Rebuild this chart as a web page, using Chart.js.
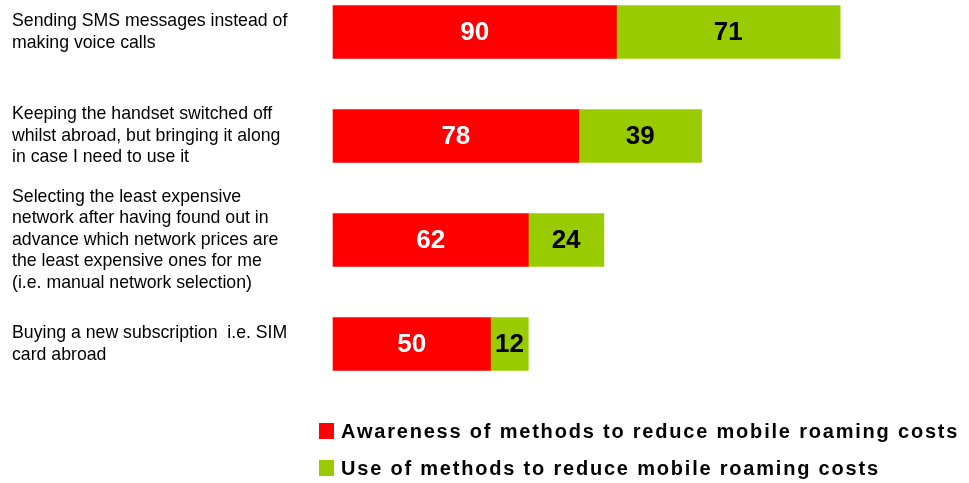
<!DOCTYPE html>
<html>
<head>
<meta charset="utf-8">
<script src="https://cdn.jsdelivr.net/npm/chart.js@4/dist/chart.umd.min.js"></script>
<style>
  html, body { margin: 0; padding: 0; background: #fff; }
  #wrap { width: 969px; height: 483px; }
</style>
</head>
<body>
<div id="wrap"><canvas id="graficoRoaming"></canvas></div>
<script>
const metodos = [
    ['Sending SMS messages instead of', 'making voice calls'],
    ['Keeping the handset switched off', 'whilst abroad, but bringing it along', 'in case I need to use it'],
    ['Selecting the least expensive', 'network after having found out in', 'advance which network prices are', 'the least expensive ones for me', '(i.e. manual network selection)'],
    ['Buying a new subscription  i.e. SIM', 'card abroad']
];
const conhecimento = [90, 78, 62, 50];
const uso = [71, 39, 24, 12];
const legendas = [
    'Awareness of methods to reduce mobile roaming costs',
    'Use of methods to reduce mobile roaming costs'
];

const VERMELHO = '#ff0000';
const VERDE = '#99cc00';
const FONTE = "Arial, 'Liberation Sans', sans-serif";

// numbers written in the middle of each bar segment
const rotulosBarras = {
    id: 'rotulosBarras',
    afterDatasetsDraw(chart) {
        const { ctx } = chart;
        ctx.save();
        ctx.font = 'bold 26px ' + FONTE;
        ctx.textAlign = 'center';
        ctx.textBaseline = 'middle';
        chart.data.datasets.forEach((ds, i) => {
            ctx.fillStyle = i === 0 ? '#ffffff' : '#000000';
            chart.getDatasetMeta(i).data.forEach((barra, j) => {
                ctx.fillText(String(ds.data[j]), (barra.x + barra.base) / 2, barra.y + 1);
            });
        });
        ctx.restore();
    }
};

// legend stacked under the bars, one series per line
const legendaVertical = {
    id: 'legendaVertical',
    afterDraw(chart) {
        const { ctx, chartArea } = chart;
        const x = chartArea.left - 14;
        ctx.save();
        ctx.font = 'bold 20px ' + FONTE;
        ctx.textBaseline = 'middle';
        ctx.textAlign = 'left';
        if ('letterSpacing' in ctx) ctx.letterSpacing = '1.8px';
        chart.data.datasets.forEach((ds, i) => {
            const y = chartArea.bottom + 87 + i * 37;
            ctx.fillStyle = ds.backgroundColor;
            ctx.fillRect(x, y - 8, 15, 16);
            ctx.fillStyle = '#000000';
            ctx.fillText(ds.label, x + 22, y + 1);
        });
        ctx.restore();
    }
};

const ctx = document.getElementById('graficoRoaming');

new Chart(ctx, {
    type: 'bar',
    data: {
        labels: metodos,
        datasets: [{
            label: legendas[0],
            data: conhecimento,
            backgroundColor: VERMELHO,
            barThickness: 53,
            clip: false
        }, {
            label: legendas[1],
            data: uso,
            backgroundColor: VERDE,
            barThickness: 53,
            clip: false
        }]
    },
    options: {
        indexAxis: 'y',
        responsive: true,
        maintainAspectRatio: false,
        animation: false,
        layout: {
            padding: { left: 12, top: 32, right: 6, bottom: 139 }
        },
        plugins: {
            legend: { display: false },
            tooltip: { enabled: false }
        },
        scales: {
            x: {
                stacked: true,
                display: false,
                min: 0,
                max: 200
            },
            y: {
                stacked: true,
                offset: false,
                grid: { display: false },
                border: { display: false },
                ticks: {
                    autoSkip: false,
                    crossAlign: 'far',
                    padding: 0,
                    color: '#000000',
                    font: { family: FONTE, size: 17.7, lineHeight: 1.22 }
                },
                afterFit(scale) {
                    // the multi-line labels should not push the bars inwards
                    scale.width = 321;
                    scale.paddingTop = 0;
                    scale.paddingBottom = 0;
                }
            }
        }
    },
    plugins: [rotulosBarras, legendaVertical]
});
</script>
</body>
</html>
